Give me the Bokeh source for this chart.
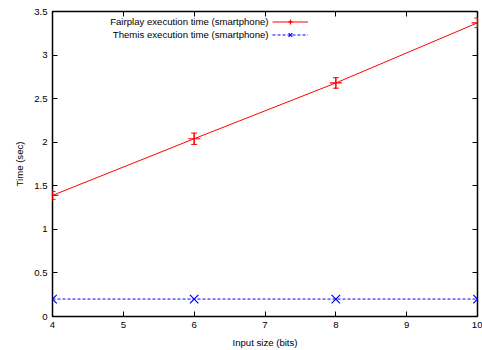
from bokeh.plotting import figure
from bokeh.models import ColumnDataSource, Whisker, Legend, LegendItem, Label, LinearAxis, FixedTicker, Range1d
from bokeh.embed import file_html
from bokeh.resources import INLINE

# data
input_bits = [4, 6, 8, 10]
fairplay_time = [1.39, 2.04, 2.68, 3.37]
fairplay_err = [0.045, 0.065, 0.06, 0.055]
themis_time = [0.2, 0.2, 0.2, 0.2]

xticks = [4, 5, 6, 7, 8, 9, 10]
yticks = [0, 0.5, 1, 1.5, 2, 2.5, 3, 3.5]
ytick_labels = ["0", "0.5", "1", "1.5", "2", "2.5", "3", "3.5"]

FONT = "Liberation Sans"
FS = "9.6px"

p = figure(width=482, height=350, output_backend="svg", toolbar_location=None,
           x_range=Range1d(4, 10), y_range=Range1d(0, 3.5),
           min_border_left=52, min_border_right=5, min_border_top=11, min_border_bottom=32)
p.grid.visible = False
p.outline_line_color = "black"
p.outline_line_width = 1.5
p.background_fill_color = "white"
p.border_fill_color = "white"

src = ColumnDataSource(dict(
    x=input_bits, f=fairplay_time, t=themis_time,
    upper=[v + e for v, e in zip(fairplay_time, fairplay_err)],
    lower=[v - e for v, e in zip(fairplay_time, fairplay_err)],
))

fl = p.line("x", "f", source=src, line_color="#ff0000", line_width=1)
fm = p.scatter("x", "f", source=src, marker="cross", size=12, line_color="#ff0000", line_width=1.2)
w = Whisker(base="x", upper="upper", lower="lower", source=src, line_color="#ff0000", line_width=1)
w.upper_head.size = 6
w.lower_head.size = 6
w.upper_head.line_color = "#ff0000"
w.lower_head.line_color = "#ff0000"
p.add_layout(w)

tl = p.line("x", "t", source=src, line_color="#0000ff", line_width=1, line_dash="3 2")
tm = p.scatter("x", "t", source=src, marker="x", size=12, line_color="#0000ff", line_width=1.2)

def style_axis(ax, labels=True):
    ax.major_tick_in = 5
    ax.major_tick_out = 0
    ax.minor_tick_line_color = None
    ax.axis_line_color = None
    ax.major_tick_line_color = "black"
    ax.major_label_text_font = FONT
    ax.major_label_text_font_size = FS
    ax.major_label_text_color = "black" if labels else None
    ax.major_label_standoff = 5

for ax in p.xaxis:
    style_axis(ax)
    ax.ticker = FixedTicker(ticks=xticks)
    ax.axis_label = "Input size (bits)"
for ax in p.yaxis:
    style_axis(ax)
    ax.ticker = FixedTicker(ticks=yticks)
    ax.major_label_overrides = {v: s for v, s in zip(yticks, ytick_labels)}
    ax.axis_label = "Time (sec)"
for ax in list(p.xaxis) + list(p.yaxis):
    ax.axis_label_text_font = FONT
    ax.axis_label_text_font_size = FS
    ax.axis_label_text_font_style = "normal"
    ax.axis_label_text_color = "black"
    ax.axis_label_standoff = 6

top = LinearAxis(ticker=FixedTicker(ticks=xticks))
right = LinearAxis(ticker=FixedTicker(ticks=yticks))
for ax in (top, right):
    style_axis(ax, labels=False)
    ax.major_label_text_font_size = "0px"
    ax.major_label_standoff = 0
p.add_layout(top, "above")
p.add_layout(right, "right")

legend = Legend(items=[LegendItem(label=" ", renderers=[fl, fm]),
                       LegendItem(label=" ", renderers=[tl, tm])],
                location=(220, 275), glyph_width=36, glyph_height=13, label_height=13,
                label_standoff=0, padding=0, margin=0, spacing=0,
                border_line_color=None, background_fill_alpha=0,
                label_text_font_size="1px")
p.add_layout(legend)

for i, txt in enumerate(["Fairplay execution time (smartphone)", "Themis execution time (smartphone)"]):
    p.add_layout(Label(x=216, y=295 - 13 * i, x_units="screen", y_units="screen", text=txt,
                       text_align="right", text_baseline="middle", text_font=FONT,
                       text_font_size=FS, text_color="black"))

open("out.html", "w").write(file_html(p, INLINE))
